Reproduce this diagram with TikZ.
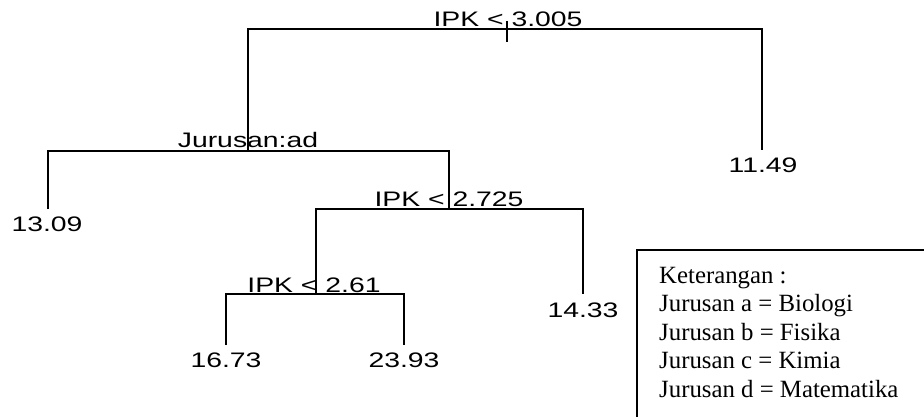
\documentclass[tikz,border=0pt]{standalone}
\usepackage{fontspec}
\setmainfont{Liberation Serif}
\newfontfamily\arialfont{Liberation Sans}
\begin{document}
\begin{tikzpicture}[x=1pt,y=-1pt,
  edge/.style={line width=1.4pt},
  lbl/.style={inner sep=0pt,font=\arialfont\fontsize{21}{24}\selectfont,xscale=1.35},
  legendline/.style={line width=1.4pt}]
\useasboundingbox (0,0) rectangle (924,417);
% split and leaf coordinates
\coordinate (s1) at (507,29);
\coordinate (t1a) at (507,21);
\coordinate (t1b) at (507,42);
\coordinate (s2) at (248,151);
\coordinate (s3) at (449,209);
\coordinate (s4) at (316,294);
\coordinate (L1) at (48,209);
\coordinate (L2) at (762,150);
\coordinate (L3) at (583,294);
\coordinate (L4) at (226,345);
\coordinate (L5) at (404,345);
% connectors
\draw[edge] (t1a) -- (t1b);
\draw[edge] (s2) |- (s1) -| (L2);
\draw[edge] (L1) |- (s2) -| (s3);
\draw[edge] (s4) |- (s3) -| (L3);
\draw[edge] (L4) |- (s4) -| (L5);
% split labels
\node[lbl,anchor=base] (n1) at (508,27) {IPK < 3.005};
\node[lbl,anchor=base] (n2) at (248,148) {Jurusan:ad};
\node[lbl,anchor=base] (n3) at (449,207) {IPK < 2.725};
\node[lbl,anchor=base] (n4) at (314,292) {IPK < 2.61};
% leaf labels
\node[lbl,anchor=base] (v1) at (47,231) {13.09};
\node[lbl,anchor=base] (v2) at (763,173) {11.49};
\node[lbl,anchor=base] (v3) at (583,317) {14.33};
\node[lbl,anchor=base] (v4) at (226,367) {16.73};
\node[lbl,anchor=base] (v5) at (404,367) {23.93};
% legend (box cut off at the right and bottom edges)
\coordinate (bBL) at (637,417);
\coordinate (bTL) at (637,250);
\coordinate (bTR) at (924,250);
\draw[legendline] (bBL) -- (bTL) -- (bTR);
\node[anchor=north west,align=left,inner sep=0pt,font=\fontsize{24.8}{28.5}\selectfont] (leg) at (659,267)
 {Keterangan :\\Jurusan a = Biologi\\Jurusan b = Fisika\\Jurusan c = Kimia\\Jurusan d = Matematika};
\end{tikzpicture}
\end{document}
